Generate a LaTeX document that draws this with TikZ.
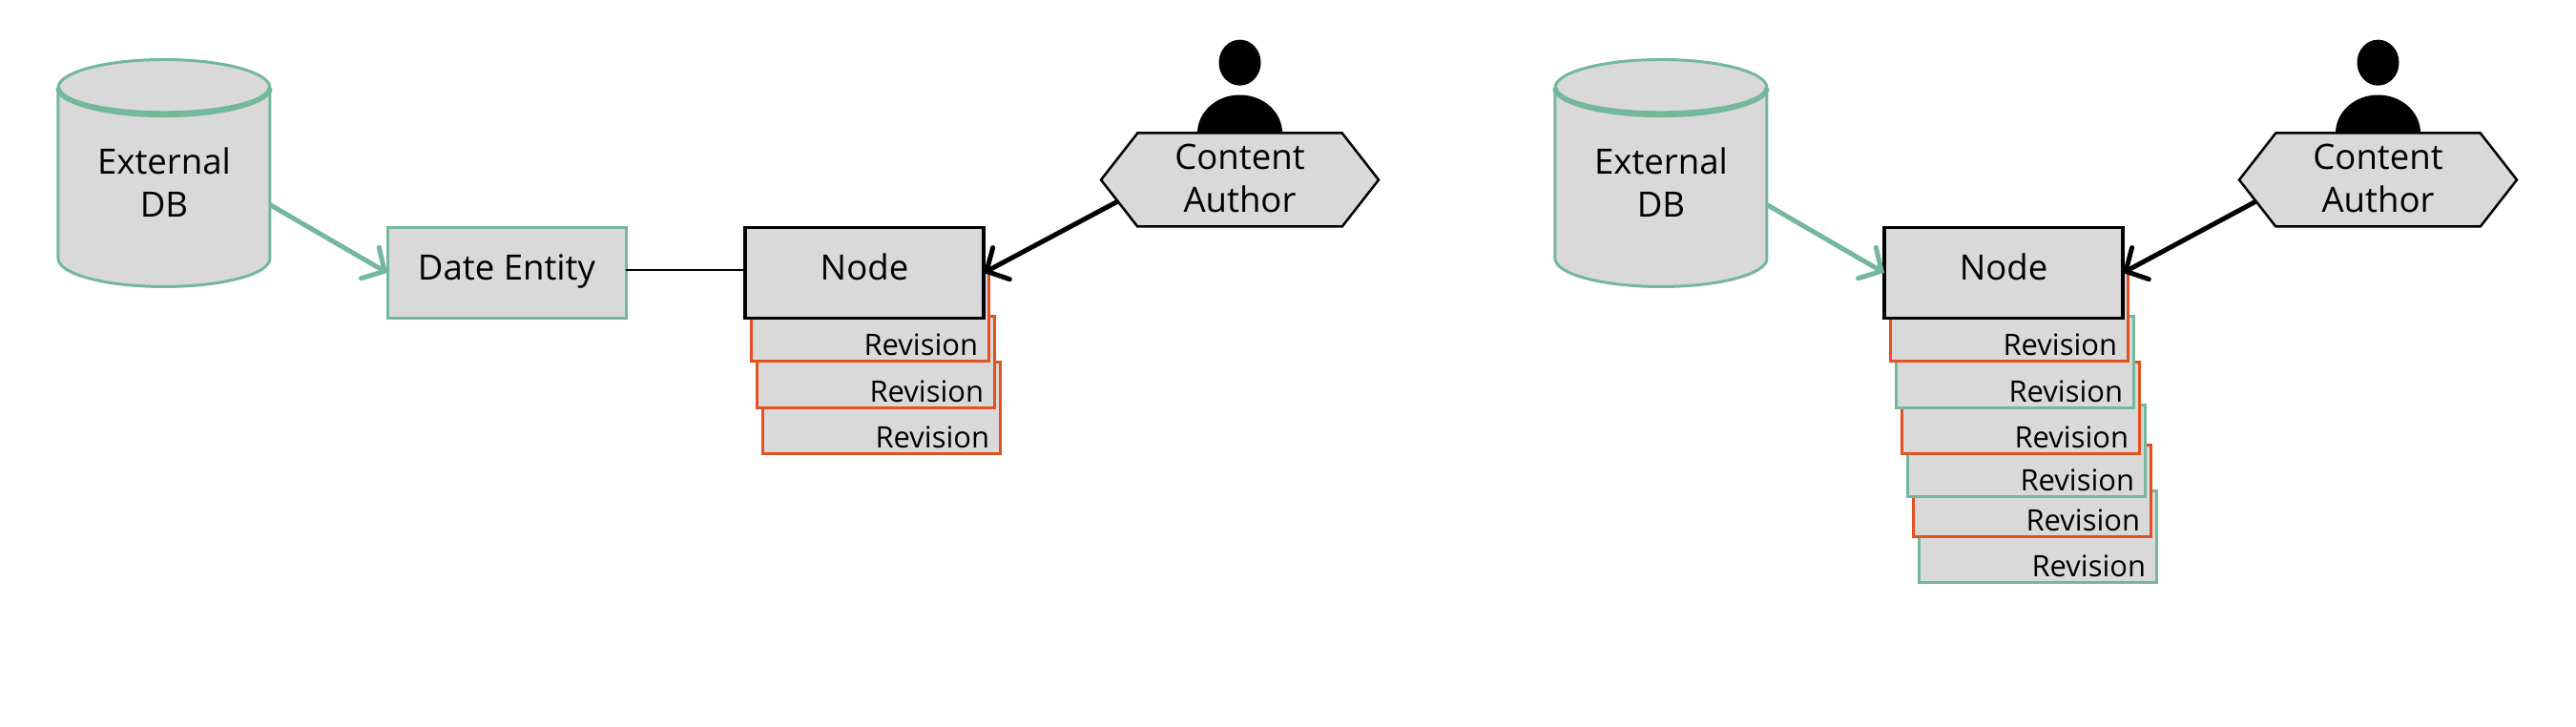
\documentclass[tikz,border=0pt]{standalone}
\usepackage{fontspec}
\setmainfont{Open Sans}
\usetikzlibrary{positioning, shapes.geometric, shapes.symbols, arrows.meta}
\definecolor{storegreen}{RGB}{116, 184, 156}
\definecolor{revorange}{RGB}{229, 80, 32}
\definecolor{boxgray}{RGB}{217, 217, 217}

\begin{document}
\begin{tikzpicture}[
  bigfont/.style={font=\fontsize{20.8}{25.5}\selectfont},
  dbstore/.style={cylinder, shape border rotate=90, shape aspect=0.423, draw=storegreen, fill=boxgray, line width=0.06cm, minimum width=4.44cm, minimum height=4.76cm, inner sep=0, outer sep=0, align=center, text depth=0.24cm, bigfont},
  flatbox/.style={rectangle, fill=boxgray, minimum width=5cm, inner sep=0, outer sep=0, text height=1.11cm, text depth=0.79cm, bigfont},
  datebox/.style={flatbox, draw=storegreen, line width=0.06cm},
  corebox/.style={flatbox, draw=black, line width=0.065cm},
  authorhex/.style={signal, signal to=east and west, signal pointer angle=104, draw=black, fill=boxgray, line width=0.05cm, minimum width=5.82cm, minimum height=1.96cm, inner sep=0, outer sep=0, align=center, text depth=0.06cm, bigfont},
  revbox/.style={rectangle, fill=boxgray, line width=0.06cm, inner xsep=0.23cm, inner ysep=0, outer sep=0, text width=4.52cm, align=right, text height=1.79cm, text depth=0.13cm, font=\fontsize{17.6}{20}\selectfont},
  revred/.style={revbox, draw=revorange},
  revgreen/.style={revbox, draw=storegreen},
  arrowgreen/.style={-{Straight Barb[length=3.5mm,width=7.5mm,line cap=round]}, line width=0.1cm, storegreen},
  arrowblack/.style={-{Straight Barb[length=3.5mm,width=7.5mm,line cap=round]}, line width=0.1cm, black},
  headdot/.style={ellipse, fill=black, minimum width=0.88cm, minimum height=0.96cm, inner sep=0}
]
\useasboundingbox (0,0) rectangle (54,15.24);

% Left stack
\node[revred] (revleftC) at (18.48,6.68) {Revision};
\node[revred] (revleftB) [above=-0.96cm of revleftC, xshift=-0.12cm] {Revision};
\node[revred] (revleftA) [above=-0.94cm of revleftB, xshift=-0.12cm] {Revision};
\node[corebox] (nodeleft) [above=-1.01cm of revleftA, xshift=-0.12cm] {Node};

% Left sources
\node[datebox] (dateleft) [left=2.5cm of nodeleft] {Date Entity};
\node[dbstore] (dbleft) [left=2.46cm of dateleft, yshift=1.78cm] {External\\ DB};
\node[authorhex] (hexleft) [right=2.46cm of nodeleft, yshift=1.95cm] {Content\\ Author};
\node[headdot] (headleft) [above=0.99cm of hexleft] {};
\fill (hexleft.north) ++(-0.89,0) arc[start angle=180, end angle=0, x radius=0.89cm, y radius=0.8cm] -- cycle;

% Right stack
\node[revgreen] (revrightF) at (42.72,3.98) {Revision};
\node[revred] (revrightE) [above=-0.96cm of revrightF, xshift=-0.12cm] {Revision};
\node[revgreen] (revrightD) [above=-1.08cm of revrightE, xshift=-0.12cm] {Revision};
\node[revred] (revrightC) [above=-1.02cm of revrightD, xshift=-0.12cm] {Revision};
\node[revgreen] (revrightB) [above=-0.96cm of revrightC, xshift=-0.12cm] {Revision};
\node[revred] (revrightA) [above=-0.94cm of revrightB, xshift=-0.12cm] {Revision};
\node[corebox] (noderight) [above=-1.01cm of revrightA, xshift=-0.12cm] {Node};

% Right sources
\node[dbstore] (dbright) [left=2.46cm of noderight, yshift=1.78cm] {External\\ DB};
\node[authorhex] (hexright) [right=2.44cm of noderight, yshift=1.95cm] {Content\\ Author};
\node[headdot] (headright) [above=0.99cm of hexright] {};
\fill (hexright.north) ++(-0.89,0) arc[start angle=180, end angle=0, x radius=0.89cm, y radius=0.8cm] -- cycle;

% Thick rims
\draw[storegreen, line width=0.11cm] (dbleft.before top) arc[start angle=180, end angle=360, x radius=2.22cm, y radius=0.54cm];
\draw[storegreen, line width=0.11cm] (dbright.before top) arc[start angle=180, end angle=360, x radius=2.22cm, y radius=0.54cm];

% Arrows
\draw[arrowgreen] (dbleft.-9) -- (dateleft.west);
\draw[line width=0.05cm] ([yshift=0.06cm]dateleft.east) -- ([yshift=0.06cm]nodeleft.west);
\draw[arrowblack] (hexleft.-170) -- (nodeleft.east);
\draw[arrowgreen] (dbright.-9) -- (noderight.west);
\draw[arrowblack] (hexright.-170) -- (noderight.east);

\end{tikzpicture}
\end{document}
